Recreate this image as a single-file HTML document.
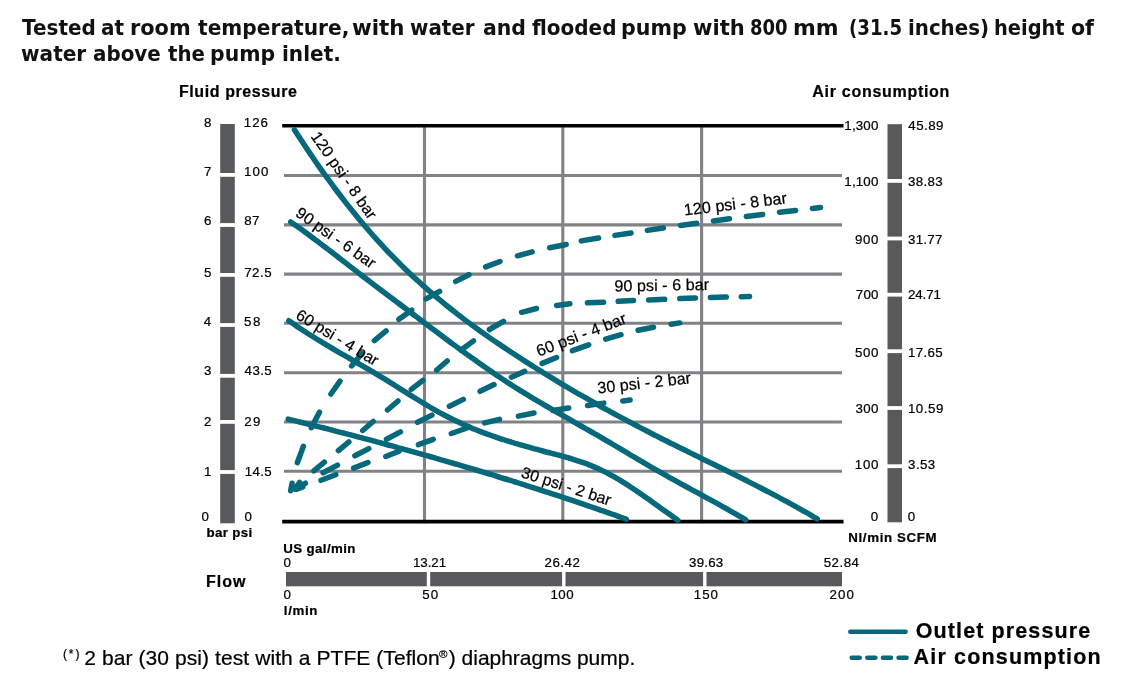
<!DOCTYPE html>
<html lang="en"><head><meta charset="utf-8"><title>Pump performance curve</title>
<style>
html,body{margin:0;padding:0;background:#fff;}
body{width:1123px;height:686px;position:relative;overflow:hidden;font-family:"Liberation Sans",sans-serif;color:#000;}
h1{position:absolute;left:0;top:0;margin:0;font-family:"DejaVu Sans","Liberation Sans",sans-serif;font-weight:bold;font-size:21px;line-height:26px;color:#111;white-space:pre;}
h1 span{position:absolute;transform-origin:0 0;display:block;}
svg{position:absolute;left:0;top:0;}
svg text{font-family:"Liberation Sans",sans-serif;fill:#000;stroke:#000;stroke-width:0.22px;white-space:pre;}
</style></head><body>

<h1><span style="left:22.0px;top:15.2px;transform:scaleX(0.951)">Tested</span> <span style="left:101.3px;top:15.2px;transform:scaleX(0.952)">at</span> <span style="left:130.2px;top:15.2px;transform:scaleX(0.993)">room</span> <span style="left:198.2px;top:15.2px;transform:scaleX(0.961)">temperature,</span> <span style="left:352.3px;top:15.2px;transform:scaleX(1.018)">with</span> <span style="left:410.4px;top:15.2px;transform:scaleX(0.948)">water</span> <span style="left:482.5px;top:15.2px;transform:scaleX(0.973)">and</span> <span style="left:531.7px;top:15.2px;transform:scaleX(0.952)">flooded</span> <span style="left:621.2px;top:15.2px;transform:scaleX(0.981)">pump</span> <span style="left:692.5px;top:15.2px;transform:scaleX(1.002)">with</span> <span style="left:749.6px;top:15.2px;transform:scaleX(0.857)">800</span> <span style="left:792.6px;top:15.2px;transform:scaleX(1.042)">mm</span> <span style="left:849.3px;top:15.2px;transform:scaleX(0.866)">(31.5</span> <span style="left:907.5px;top:15.2px;transform:scaleX(0.943)">inches)</span> <span style="left:993.8px;top:15.2px;transform:scaleX(0.924)">height</span> <span style="left:1071.2px;top:15.2px;transform:scaleX(0.978)">of</span> <span style="left:21.0px;top:40.8px;transform:scaleX(0.957)">water</span> <span style="left:93.4px;top:40.8px;transform:scaleX(0.946)">above</span> <span style="left:167.6px;top:40.8px;transform:scaleX(0.939)">the</span> <span style="left:210.1px;top:40.8px;transform:scaleX(0.973)">pump</span> <span style="left:281.6px;top:40.8px;transform:scaleX(0.955)">inlet.</span> </h1>
<svg width="1123" height="686" viewBox="0 0 1123 686">
<g stroke="#808285" stroke-width="3.1" fill="none">
<line x1="284" y1="175.5" x2="842" y2="175.5"/>
<line x1="284" y1="224.9" x2="842" y2="224.9"/>
<line x1="284" y1="274.1" x2="842" y2="274.1"/>
<line x1="284" y1="323.3" x2="842" y2="323.3"/>
<line x1="284" y1="372.8" x2="842" y2="372.8"/>
<line x1="284" y1="422.0" x2="842" y2="422.0"/>
<line x1="284" y1="471.2" x2="842" y2="471.2"/>
<line x1="424.5" y1="126" x2="424.5" y2="523.3"/>
<line x1="562.8" y1="126" x2="562.8" y2="523.3"/>
<line x1="701.6" y1="126" x2="701.6" y2="523.3"/>
</g>
<g stroke="#000" stroke-width="3.6" fill="none">
<line x1="282.2" y1="125.8" x2="843.5" y2="125.8"/>
<line x1="282.2" y1="521.6" x2="843.5" y2="521.6"/>
</g>
<rect x="220.2" y="124" width="14.6" height="399.3" fill="#58595b"/>
<rect x="887.5" y="124.2" width="14.5" height="398.1" fill="#58595b"/>
<rect x="286" y="572" width="556" height="14.3" fill="#58595b"/>
<g fill="#fff">
<rect x="219" y="173.0" width="17" height="3.8"/>
<rect x="219" y="223.1" width="17" height="3.8"/>
<rect x="219" y="273.0" width="17" height="3.8"/>
<rect x="219" y="323.1" width="17" height="3.8"/>
<rect x="219" y="373.9" width="17" height="3.8"/>
<rect x="219" y="420.0" width="17" height="3.8"/>
<rect x="219" y="470.1" width="17" height="3.8"/>
<rect x="886.5" y="179.0" width="17" height="3.8"/>
<rect x="886.5" y="236.6" width="17" height="3.8"/>
<rect x="886.5" y="292.8" width="17" height="3.8"/>
<rect x="886.5" y="349.3" width="17" height="3.8"/>
<rect x="886.5" y="406.1" width="17" height="3.8"/>
<rect x="886.5" y="464.3" width="17" height="3.8"/>
<rect x="426.8" y="571" width="3.4" height="16.5"/>
<rect x="562.1" y="571" width="3.4" height="16.5"/>
<rect x="703.1" y="571" width="3.4" height="16.5"/>
</g>
<g stroke="#05697b" stroke-width="5.5" fill="none" stroke-linecap="round" stroke-linejoin="round">
<path d="M294.4 129.8 C295.7 131.8 299.8 138.1 302.4 142.1 C305.1 146.2 307.8 150.2 310.5 154.1 C313.2 158.1 315.8 162.0 318.5 165.8 C321.2 169.6 323.9 173.4 326.6 177.1 C329.3 180.8 331.9 184.4 334.6 188.0 C337.3 191.6 340.0 195.1 342.7 198.6 C345.3 202.1 348.0 205.5 350.7 208.8 C353.4 212.2 356.1 215.4 358.7 218.7 C361.4 221.9 364.1 225.1 366.8 228.2 C369.5 231.3 372.1 234.4 374.8 237.4 C377.5 240.3 380.2 243.3 382.9 246.2 C385.6 249.1 388.2 251.9 390.9 254.7 C393.6 257.4 396.3 260.2 399.0 262.8 C401.6 265.5 404.3 268.1 407.0 270.7 C409.7 273.3 412.4 275.8 415.0 278.3 C417.7 280.8 420.4 283.2 423.1 285.6 C425.8 288.0 428.5 290.3 431.1 292.6 C433.8 294.9 436.5 297.2 439.2 299.4 C441.9 301.7 444.5 303.9 447.2 306.0 C449.9 308.2 452.6 310.3 455.3 312.4 C457.9 314.5 460.6 316.5 463.3 318.6 C466.0 320.6 468.7 322.6 471.3 324.6 C474.0 326.5 476.7 328.5 479.4 330.4 C482.1 332.3 484.8 334.2 487.4 336.1 C490.1 338.0 492.8 339.8 495.5 341.7 C498.2 343.5 500.8 345.3 503.5 347.1 C506.2 348.9 508.9 350.7 511.6 352.5 C514.2 354.2 516.9 356.0 519.6 357.7 C522.3 359.5 525.0 361.2 527.6 362.9 C530.3 364.6 533.0 366.3 535.7 368.0 C538.4 369.7 541.1 371.3 543.7 373.0 C546.4 374.7 549.1 376.3 551.8 377.9 C554.5 379.6 557.1 381.2 559.8 382.8 C562.5 384.4 565.2 386.0 567.9 387.6 C570.5 389.1 573.2 390.7 575.9 392.3 C578.6 393.8 581.3 395.4 584.0 396.9 C586.6 398.4 589.3 400.0 592.0 401.5 C594.7 403.0 597.4 404.5 600.0 406.0 C602.7 407.5 605.4 409.0 608.1 410.4 C610.8 411.9 613.4 413.4 616.1 414.8 C618.8 416.3 621.5 417.7 624.2 419.1 C626.8 420.6 629.5 422.0 632.2 423.4 C634.9 424.8 637.6 426.2 640.3 427.6 C642.9 429.0 645.6 430.4 648.3 431.8 C651.0 433.2 653.7 434.5 656.3 435.9 C659.0 437.3 661.7 438.6 664.4 440.0 C667.1 441.3 669.7 442.7 672.4 444.0 C675.1 445.3 677.8 446.7 680.5 448.0 C683.1 449.3 685.8 450.7 688.5 452.0 C691.2 453.3 693.9 454.6 696.6 455.9 C699.2 457.3 701.9 458.6 704.6 459.9 C707.3 461.2 710.0 462.5 712.6 463.8 C715.3 465.2 718.0 466.5 720.7 467.8 C723.4 469.1 726.0 470.4 728.7 471.8 C731.4 473.1 734.1 474.4 736.8 475.8 C739.5 477.1 742.1 478.4 744.8 479.8 C747.5 481.2 750.2 482.5 752.9 483.9 C755.5 485.2 758.2 486.6 760.9 488.0 C763.6 489.4 766.3 490.8 768.9 492.2 C771.6 493.6 774.3 495.0 777.0 496.4 C779.7 497.8 782.3 499.3 785.0 500.7 C787.7 502.2 790.4 503.7 793.1 505.1 C795.8 506.6 798.4 508.1 801.1 509.6 C803.8 511.1 806.5 512.7 809.2 514.2 C811.8 515.8 815.9 518.1 817.2 518.9"/>
<path d="M290.7 221.9 C292.0 222.8 296.0 225.6 298.7 227.5 C301.3 229.4 304.0 231.3 306.7 233.2 C309.3 235.2 312.0 237.2 314.6 239.2 C317.3 241.1 320.0 243.2 322.6 245.2 C325.3 247.2 328.0 249.3 330.6 251.3 C333.3 253.4 335.9 255.4 338.6 257.5 C341.3 259.6 343.9 261.6 346.6 263.7 C349.2 265.8 351.9 267.8 354.6 269.9 C357.2 272.0 359.9 274.0 362.5 276.0 C365.2 278.1 367.9 280.1 370.5 282.1 C373.2 284.2 375.8 286.2 378.5 288.2 C381.2 290.2 383.8 292.2 386.5 294.2 C389.2 296.2 391.8 298.2 394.5 300.2 C397.1 302.2 399.8 304.2 402.5 306.2 C405.1 308.2 407.8 310.2 410.4 312.2 C413.1 314.2 415.8 316.2 418.4 318.2 C421.1 320.2 423.7 322.2 426.4 324.2 C429.1 326.3 431.7 328.3 434.4 330.3 C437.0 332.3 439.7 334.3 442.4 336.2 C445.0 338.2 447.7 340.2 450.3 342.2 C453.0 344.2 455.7 346.1 458.3 348.1 C461.0 350.0 463.7 352.0 466.3 353.9 C469.0 355.8 471.6 357.7 474.3 359.6 C477.0 361.5 479.6 363.4 482.3 365.3 C484.9 367.2 487.6 369.0 490.3 370.8 C492.9 372.7 495.6 374.5 498.2 376.3 C500.9 378.1 503.6 379.8 506.2 381.6 C508.9 383.3 511.5 385.0 514.2 386.7 C516.9 388.4 519.5 390.1 522.2 391.7 C524.9 393.4 527.5 395.0 530.2 396.6 C532.8 398.2 535.5 399.8 538.2 401.4 C540.8 402.9 543.5 404.5 546.1 406.0 C548.8 407.6 551.5 409.1 554.1 410.6 C556.8 412.2 559.4 413.7 562.1 415.2 C564.8 416.7 567.4 418.2 570.1 419.7 C572.7 421.2 575.4 422.7 578.1 424.3 C580.7 425.8 583.4 427.3 586.1 428.8 C588.7 430.3 591.4 431.8 594.0 433.4 C596.7 434.9 599.4 436.5 602.0 438.0 C604.7 439.6 607.3 441.1 610.0 442.7 C612.7 444.3 615.3 445.9 618.0 447.4 C620.6 449.0 623.3 450.6 626.0 452.2 C628.6 453.8 631.3 455.3 633.9 456.9 C636.6 458.5 639.3 460.1 641.9 461.6 C644.6 463.2 647.2 464.8 649.9 466.3 C652.6 467.9 655.2 469.4 657.9 470.9 C660.6 472.4 663.2 473.9 665.9 475.4 C668.5 476.9 671.2 478.4 673.9 479.9 C676.5 481.3 679.2 482.8 681.8 484.3 C684.5 485.7 687.2 487.2 689.8 488.6 C692.5 490.1 695.1 491.5 697.8 492.9 C700.5 494.4 703.1 495.8 705.8 497.3 C708.4 498.7 711.1 500.2 713.8 501.7 C716.4 503.1 719.1 504.6 721.8 506.1 C724.4 507.6 727.1 509.0 729.7 510.6 C732.4 512.1 735.1 513.6 737.7 515.1 C740.4 516.7 744.4 519.0 745.7 519.8"/>
<path d="M288.8 320.7 C290.1 321.6 294.1 324.4 296.7 326.2 C299.4 328.0 302.0 329.8 304.7 331.5 C307.3 333.2 310.0 334.9 312.6 336.5 C315.3 338.2 317.9 339.8 320.6 341.4 C323.2 343.0 325.8 344.6 328.5 346.2 C331.1 347.7 333.8 349.3 336.4 350.8 C339.1 352.4 341.7 353.9 344.4 355.4 C347.0 356.9 349.7 358.5 352.3 360.0 C355.0 361.5 357.6 363.0 360.2 364.6 C362.9 366.1 365.5 367.6 368.2 369.2 C370.8 370.7 373.5 372.3 376.1 373.9 C378.8 375.5 381.4 377.1 384.1 378.7 C386.7 380.3 389.4 382.0 392.0 383.6 C394.7 385.3 397.3 386.9 399.9 388.6 C402.6 390.3 405.2 391.9 407.9 393.6 C410.5 395.2 413.2 396.9 415.8 398.5 C418.5 400.2 421.1 401.8 423.8 403.4 C426.4 405.0 429.1 406.5 431.7 408.1 C434.3 409.6 437.0 411.1 439.6 412.6 C442.3 414.0 444.9 415.4 447.6 416.8 C450.2 418.1 452.9 419.5 455.5 420.7 C458.2 422.0 460.8 423.2 463.5 424.4 C466.1 425.6 468.7 426.7 471.4 427.9 C474.0 429.0 476.7 430.0 479.3 431.1 C482.0 432.1 484.6 433.1 487.3 434.1 C489.9 435.0 492.6 436.0 495.2 436.9 C497.9 437.8 500.5 438.7 503.1 439.5 C505.8 440.4 508.4 441.2 511.1 442.0 C513.7 442.9 516.4 443.7 519.0 444.4 C521.7 445.2 524.3 446.0 527.0 446.7 C529.6 447.5 532.3 448.2 534.9 448.9 C537.5 449.6 540.2 450.3 542.8 451.0 C545.5 451.8 548.1 452.4 550.8 453.1 C553.4 453.8 556.1 454.5 558.7 455.2 C561.4 456.0 564.0 456.7 566.7 457.4 C569.3 458.2 571.9 458.9 574.6 459.8 C577.2 460.6 579.9 461.5 582.5 462.4 C585.2 463.3 587.8 464.3 590.5 465.4 C593.1 466.4 595.8 467.6 598.4 468.8 C601.1 470.0 603.7 471.3 606.4 472.6 C609.0 474.0 611.6 475.4 614.3 476.9 C616.9 478.4 619.6 480.0 622.2 481.6 C624.9 483.3 627.5 484.9 630.2 486.7 C632.8 488.4 635.5 490.2 638.1 492.0 C640.8 493.8 643.4 495.7 646.0 497.5 C648.7 499.4 651.3 501.3 654.0 503.2 C656.6 505.1 659.3 507.0 661.9 508.9 C664.6 510.8 667.2 512.7 669.9 514.6 C672.5 516.5 676.5 519.3 677.8 520.2"/>
<path d="M288.2 419.1 C289.5 419.4 293.6 420.4 296.3 421.1 C298.9 421.8 301.6 422.4 304.3 423.1 C307.0 423.8 309.7 424.4 312.4 425.1 C315.0 425.8 317.7 426.5 320.4 427.1 C323.1 427.8 325.8 428.5 328.5 429.2 C331.1 429.9 333.8 430.6 336.5 431.3 C339.2 432.0 341.9 432.7 344.6 433.3 C347.3 434.0 349.9 434.7 352.6 435.4 C355.3 436.2 358.0 436.9 360.7 437.6 C363.4 438.3 366.0 439.0 368.7 439.7 C371.4 440.4 374.1 441.1 376.8 441.9 C379.5 442.6 382.1 443.3 384.8 444.0 C387.5 444.8 390.2 445.5 392.9 446.2 C395.6 446.9 398.2 447.7 400.9 448.4 C403.6 449.2 406.3 449.9 409.0 450.6 C411.7 451.4 414.4 452.1 417.0 452.9 C419.7 453.6 422.4 454.4 425.1 455.2 C427.8 455.9 430.5 456.7 433.1 457.4 C435.8 458.2 438.5 459.0 441.2 459.8 C443.9 460.5 446.6 461.3 449.2 462.1 C451.9 462.9 454.6 463.6 457.3 464.4 C460.0 465.2 462.7 466.0 465.4 466.8 C468.0 467.6 470.7 468.4 473.4 469.2 C476.1 470.0 478.8 470.8 481.5 471.6 C484.1 472.4 486.8 473.2 489.5 474.0 C492.2 474.9 494.9 475.7 497.6 476.5 C500.2 477.3 502.9 478.2 505.6 479.0 C508.3 479.8 511.0 480.6 513.7 481.5 C516.4 482.3 519.0 483.2 521.7 484.0 C524.4 484.9 527.1 485.7 529.8 486.6 C532.5 487.4 535.1 488.3 537.8 489.1 C540.5 490.0 543.2 490.9 545.9 491.8 C548.6 492.6 551.2 493.5 553.9 494.4 C556.6 495.3 559.3 496.1 562.0 497.0 C564.7 497.9 567.3 498.8 570.0 499.7 C572.7 500.6 575.4 501.5 578.1 502.4 C580.8 503.3 583.5 504.2 586.1 505.1 C588.8 506.1 591.5 507.0 594.2 507.9 C596.9 508.8 599.6 509.8 602.2 510.7 C604.9 511.6 607.6 512.6 610.3 513.5 C613.0 514.4 615.7 515.4 618.3 516.3 C621.0 517.3 625.1 518.7 626.4 519.2"/>
<path d="M290.6 490.7 L292.1 483.3M297.3 462.7 L303.4 446.3M311.3 427.7 L319.5 412.1M330.9 394.0 L340.0 381.2M351.6 365.9 L361.9 353.5M374.4 340.6 L386.1 330.9M398.9 319.3 L411.7 310.2M426.1 298.9 L439.6 291.4M455.7 281.4 L468.9 274.7M485.7 266.8 L500.0 261.5M517.5 255.8 L532.1 251.9M549.7 247.7 L566.2 244.5M581.3 240.9 L598.6 238.0M614.9 235.4 L631.0 233.0M647.3 230.4 L663.4 228.0M680.5 225.4 L696.6 223.3M713.4 220.9 L729.5 218.8M746.3 216.5 L762.7 214.5M779.5 212.3 L795.6 210.5M812.4 208.5 L820.5 207.5"/>
<path d="M294.8 489.0 L299.7 482.5M313.8 470.9 L324.4 462.2M338.4 450.6 L348.9 441.9M362.7 430.5 L373.2 421.5M387.5 410.0 L398.0 401.0M411.3 389.3 L422.8 380.4M436.7 370.0 L447.2 361.0M461.1 350.0 L473.5 340.9M489.4 329.5 L503.5 321.3M521.6 312.3 L536.5 308.5M556.6 305.4 L569.9 303.8M587.5 302.8 L603.6 302.2M618.2 301.3 L633.5 300.5M648.6 300.0 L664.7 299.3M679.8 298.6 L695.4 298.0M710.4 297.4 L726.3 296.9M741.3 296.7 L749.5 296.4"/>
<path d="M296.1 489.3 L305.4 483.2M323.1 472.7 L337.5 465.1M354.9 455.8 L368.8 448.6M386.5 439.2 L400.4 431.9M417.5 422.3 L432.0 415.1M449.4 406.3 L463.3 399.4M480.1 391.3 L494.0 384.6M511.4 377.2 L524.7 371.3M542.1 363.4 L556.6 357.5M572.4 350.7 L588.7 344.8M605.7 339.1 L621.0 334.7M638.1 330.3 L653.5 327.2M671.0 324.2 L679.7 322.9"/>
<path d="M296.7 489.1 L302.8 486.9M321.0 480.3 L335.8 474.7M353.6 468.1 L368.0 462.5M385.8 456.5 L399.1 451.2M418.4 444.7 L433.2 439.3M451.3 433.5 L467.0 428.0M484.6 422.9 L499.5 419.4M518.4 416.1 L534.0 413.0M552.9 410.5 L568.7 408.0M587.6 405.5 L603.8 403.1M622.7 400.9 L630.1 399.9"/>
</g>
<line x1="850.3" y1="631.75" x2="905.6" y2="631.75" stroke="#05697b" stroke-width="4.5" stroke-linecap="round"/>
<line x1="851.7" y1="657.7" x2="906.6" y2="657.7" stroke="#05697b" stroke-width="4.5" stroke-linecap="round" stroke-dasharray="8.1 7.5"/>
<text x="178.9" y="96.6" style="font-weight:bold;font-size:16px;letter-spacing:0.60px">Fluid pressure</text>
<text x="812.3" y="96.6" style="font-weight:bold;font-size:16px;letter-spacing:0.71px">Air consumption</text>
<text x="204.1" y="127.4" style="font-size:13.3px">8</text>
<text x="204.1" y="175.7" style="font-size:13.3px">7</text>
<text x="204.1" y="225.2" style="font-size:13.3px">6</text>
<text x="204.1" y="276.9" style="font-size:13.3px">5</text>
<text x="203.8" y="325.8" style="font-size:13.3px">4</text>
<text x="204.1" y="374.8" style="font-size:13.3px">3</text>
<text x="204.1" y="425.6" style="font-size:13.3px">2</text>
<text x="204.1" y="476.0" style="font-size:13.3px">1</text>
<text x="201.5" y="521.0" style="font-size:13.3px">0</text>
<text x="243.8" y="127.4" style="font-size:13.3px;letter-spacing:1.01px">126</text>
<text x="244.1" y="175.7" style="font-size:13.3px;letter-spacing:1.01px">100</text>
<text x="244.3" y="225.2" style="font-size:13.3px;letter-spacing:0.41px">87</text>
<text x="244.2" y="276.9" style="font-size:13.3px;letter-spacing:0.54px">72.5</text>
<text x="244.1" y="325.8" style="font-size:13.3px;letter-spacing:1.45px">58</text>
<text x="244.6" y="374.8" style="font-size:13.3px;letter-spacing:0.42px">43.5</text>
<text x="244.2" y="425.6" style="font-size:13.3px;letter-spacing:1.36px">29</text>
<text x="244.8" y="476.0" style="font-size:13.3px;letter-spacing:0.35px">14.5</text>
<text x="244.4" y="521.0" style="font-size:13.3px">0</text>
<text x="206.5" y="537.4" style="font-weight:bold;font-size:13.3px;letter-spacing:0.33px">bar psi</text>
<text x="844.3" y="129.7" style="font-size:13.3px;letter-spacing:0.19px">1,300</text>
<text x="844.3" y="186.4" style="font-size:13.3px;letter-spacing:0.19px">1,100</text>
<text x="855.0" y="243.6" style="font-size:13.3px;letter-spacing:0.66px">900</text>
<text x="855.7" y="299.2" style="font-size:13.3px;letter-spacing:0.30px">700</text>
<text x="854.9" y="357.3" style="font-size:13.3px;letter-spacing:0.71px">500</text>
<text x="855.6" y="412.5" style="font-size:13.3px;letter-spacing:0.34px">300</text>
<text x="854.7" y="469.4" style="font-size:13.3px;letter-spacing:0.81px">100</text>
<text x="870.8" y="521.4" style="font-size:13.3px">0</text>
<text x="908.3" y="129.7" style="font-size:13.3px;letter-spacing:0.45px">45.89</text>
<text x="908.1" y="186.4" style="font-size:13.3px;letter-spacing:0.31px">38.83</text>
<text x="908.1" y="243.6" style="font-size:13.3px;letter-spacing:0.24px">31.77</text>
<text x="907.9" y="299.2" style="font-size:13.3px;letter-spacing:-0.04px">24.71</text>
<text x="907.9" y="357.3" style="font-size:13.3px;letter-spacing:0.36px">17.65</text>
<text x="907.9" y="412.5" style="font-size:13.3px;letter-spacing:0.55px">10.59</text>
<text x="908.1" y="469.4" style="font-size:13.3px;letter-spacing:0.40px">3.53</text>
<text x="907.8" y="521.4" style="font-size:13.3px">0</text>
<text x="848.3" y="541.6" style="font-weight:bold;font-size:13.3px;letter-spacing:0.63px">Nl/min SCFM</text>
<text x="283.2" y="553.0" style="font-weight:bold;font-size:13.3px;letter-spacing:0.39px">US gal/min</text>
<text x="283.8" y="614.7" style="font-weight:bold;font-size:13.3px;letter-spacing:0.65px">l/min</text>
<text x="205.9" y="587.0" style="font-weight:bold;font-size:16px;letter-spacing:1.05px">Flow</text>
<text x="283.5" y="567.4" style="font-size:13.3px">0</text>
<text x="413.0" y="567.4" style="font-size:13.3px;letter-spacing:-0.06px">13.21</text>
<text x="544.5" y="567.4" style="font-size:13.3px;letter-spacing:0.50px">26.42</text>
<text x="689.0" y="567.4" style="font-size:13.3px;letter-spacing:0.23px">39.63</text>
<text x="823.7" y="567.4" style="font-size:13.3px;letter-spacing:0.50px">52.84</text>
<text x="283.5" y="598.5" style="font-size:13.3px">0</text>
<text x="422.2" y="598.5" style="font-size:13.3px;letter-spacing:1.07px">50</text>
<text x="550.5" y="598.5" style="font-size:13.3px;letter-spacing:0.46px">100</text>
<text x="693.8" y="598.5" style="font-size:13.3px;letter-spacing:0.96px">150</text>
<text x="829.5" y="598.5" style="font-size:13.3px;letter-spacing:1.05px">200</text>
<text x="915.8" y="637.9" style="font-weight:bold;font-size:21.5px;letter-spacing:1.10px">Outlet pressure</text>
<text x="913.6" y="663.6" style="font-weight:bold;font-size:21.5px;letter-spacing:1.16px">Air consumption</text>
<text x="62.9" y="657.6" style="font-size:12px;letter-spacing:1.92px">(*)</text>
<text x="84.3" y="664.7" style="font-size:21px;letter-spacing:0.08px">2 bar (30 psi) test with a PTFE (Teflon</text>
<text x="439.0" y="657.5" style="font-size:11.5px">®</text>
<text x="448.8" y="664.7" style="font-size:21px;letter-spacing:-0.02px">) diaphragms pump.</text>
<text style="font-size:16.0px" transform="translate(310.3 136.5) rotate(55.1)">120 psi - 8 bar</text>
<text style="font-size:16.0px" transform="translate(294.6 215.3) rotate(35.1)">90 psi - 6 bar</text>
<text style="font-size:16.0px" transform="translate(294.8 318.0) rotate(31.2)">60 psi - 4 bar</text>
<text style="font-size:16.0px" transform="translate(520.3 476.9) rotate(17.9)">30 psi - 2 bar</text>
<text style="font-size:16.2px" transform="translate(684.6 215.6) rotate(-6.8)">120 psi - 8 bar</text>
<text style="font-size:16.2px" transform="translate(614.6 291.6) rotate(-1.0)">90 psi - 6 bar</text>
<text style="font-size:16.3px" transform="translate(538.8 356.8) rotate(-20.9)">60 psi - 4 bar</text>
<text style="font-size:16.1px" transform="translate(598.0 393.4) rotate(-6.2)">30 psi - 2 bar</text>
</svg>
</body></html>
